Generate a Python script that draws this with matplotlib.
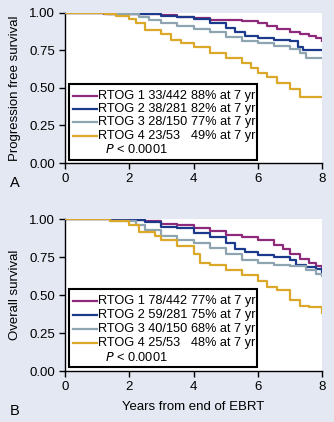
import matplotlib
matplotlib.use("Agg")
import matplotlib.pyplot as plt
from matplotlib.patches import Rectangle

plt.rcParams['font.family'] = ['Liberation Sans', 'DejaVu Sans']

# Kaplan-Meier step curves (time in years, survival fraction)
groups = ["RTOG 1", "RTOG 2", "RTOG 3", "RTOG 4"]
colors = ["#8e2a7a", "#1c3a8c", "#8ea4b0", "#dba82a"]

pfs_events = ["33/442", "38/281", "28/150", "23/53"]
pfs_pct = ["88% at 7 yr", "82% at 7 yr", "77% at 7 yr", "49% at 7 yr"]
os_events = ["78/442", "59/281", "40/150", "25/53"]
os_pct = ["77% at 7 yr", "75% at 7 yr", "68% at 7 yr", "48% at 7 yr"]

pfs_t = [
    [0, 1.2, 2.0, 3.0, 3.5, 4.0, 4.5, 5.0, 5.5, 6.0, 6.3, 6.6, 7.0, 7.3, 7.6, 7.8, 8.0],
    [0, 1.3, 2.2, 3.0, 3.5, 4.0, 4.5, 5.0, 5.3, 5.6, 6.0, 6.5, 7.0, 7.25, 7.4, 8.0],
    [0, 1.4, 2.3, 2.6, 3.0, 3.5, 4.0, 4.5, 5.0, 5.5, 6.0, 6.5, 7.0, 7.3, 7.5, 8.0],
    [0, 1.25, 1.6, 2.0, 2.2, 2.5, 3.0, 3.3, 3.6, 4.0, 4.5, 5.0, 5.5, 5.8, 6.0, 6.3, 6.6, 7.0, 7.3, 8.0],
]
pfs_s = [
    [1.0, 0.995, 0.99, 0.985, 0.975, 0.965, 0.955, 0.95, 0.945, 0.935, 0.915, 0.89, 0.87, 0.86, 0.845, 0.83, 0.81],
    [1.0, 0.995, 0.99, 0.98, 0.97, 0.96, 0.93, 0.9, 0.87, 0.845, 0.83, 0.82, 0.81, 0.77, 0.75, 0.75],
    [1.0, 0.99, 0.97, 0.95, 0.93, 0.91, 0.89, 0.87, 0.84, 0.81, 0.80, 0.78, 0.76, 0.73, 0.70, 0.70],
    [1.0, 0.99, 0.98, 0.96, 0.93, 0.885, 0.86, 0.82, 0.80, 0.775, 0.73, 0.70, 0.665, 0.63, 0.60, 0.57, 0.53, 0.49, 0.44, 0.44],
]

os_t = [
    [0, 1.5, 2.5, 3.0, 3.5, 4.0, 4.5, 5.0, 5.5, 6.0, 6.5, 6.8, 7.0, 7.3, 7.6, 7.8, 8.0],
    [0, 1.5, 2.5, 3.0, 3.5, 4.0, 4.5, 5.0, 5.3, 5.6, 6.0, 6.5, 7.0, 7.2, 7.5, 7.8, 8.0],
    [0, 1.4, 2.2, 2.5, 3.0, 3.5, 4.0, 4.5, 5.0, 5.5, 6.0, 6.5, 7.0, 7.5, 7.8, 8.0],
    [0, 1.4, 2.0, 2.3, 2.8, 3.0, 3.5, 4.0, 4.2, 4.5, 5.0, 5.5, 6.0, 6.3, 6.6, 7.0, 7.3, 7.6, 8.0],
]
os_s = [
    [1.0, 0.995, 0.985, 0.97, 0.96, 0.94, 0.92, 0.895, 0.88, 0.86, 0.83, 0.80, 0.77, 0.74, 0.71, 0.69, 0.665],
    [1.0, 0.995, 0.98, 0.95, 0.94, 0.905, 0.88, 0.84, 0.80, 0.78, 0.76, 0.75, 0.73, 0.70, 0.685, 0.67, 0.65],
    [1.0, 0.99, 0.96, 0.93, 0.885, 0.86, 0.84, 0.81, 0.77, 0.73, 0.71, 0.70, 0.69, 0.665, 0.64, 0.625],
    [1.0, 0.99, 0.96, 0.915, 0.885, 0.86, 0.82, 0.77, 0.71, 0.70, 0.665, 0.63, 0.59, 0.55, 0.53, 0.47, 0.43, 0.42, 0.38],
]

bg = "#e4e8f3"
fs = 9
fig = plt.figure(figsize=(3.34, 4.22), dpi=100, facecolor=bg)
W, H = 334, 422
ax1 = fig.add_axes([65 / W, 1 - 163 / H, 257 / W, 150 / H])
ax2 = fig.add_axes([65 / W, 1 - 371 / H, 257 / W, 152 / H])


def panel(ax, times, surv, events, pct, ylabel, rows, box):
    ax.set_facecolor("white")
    for t, s, c in zip(times, surv, colors):
        ax.plot(t, s, drawstyle="steps-post", color=c, lw=1.6, zorder=3)
    ax.set_xlim(0, 8)
    ax.set_ylim(0, 1)
    ax.set_xticks([0, 2, 4, 6, 8])
    ax.set_yticks([0, 0.25, 0.5, 0.75, 1.0])
    ax.set_yticklabels(["0.00", "0.25", "0.50", "0.75", "1.00"])
    for side in ["top", "right"]:
        ax.spines[side].set_visible(False)
    for side in ["left", "bottom"]:
        ax.spines[side].set_linewidth(1.0)
    ax.tick_params(labelsize=fs + 0.5, length=4, width=1, pad=3)
    ax.set_ylabel(ylabel, fontsize=fs + 0.5, labelpad=6)

    # boxed key with group counts and 7-year estimates
    x0, y0, x1, y1 = box
    ax.add_patch(Rectangle((x0, y0), x1 - x0, y1 - y0, transform=ax.transAxes,
                           facecolor="white", edgecolor="black", lw=1.5, zorder=4))
    for g, ev, p, c, y in zip(groups, events, pct, colors, rows):
        ax.plot([0.031, 0.125], [y, y], transform=ax.transAxes, color=c, lw=1.6, zorder=5)
        ax.text(0.128, y, f"{g} {ev}", transform=ax.transAxes, fontsize=fs + 0.2,
                va="center", ha="left", zorder=5)
        ax.text(0.49, y, p, transform=ax.transAxes, fontsize=fs + 0.2,
                va="center", ha="left", zorder=5)
    ax.text(0.156, rows[-1] - (rows[0] - rows[1]), r"$\it{P}$ < 0.0001", transform=ax.transAxes,
            fontsize=fs + 0.2, va="center", ha="left", zorder=5)


panel(ax1, pfs_t, pfs_s, pfs_events, pfs_pct, "Progression free survival",
      [0.449, 0.36, 0.271, 0.18], (0.016, 0.02, 0.747, 0.527))
panel(ax2, os_t, os_s, os_events, os_pct, "Overall survival",
      [0.4625, 0.368, 0.278, 0.186], (0.016, 0.028, 0.747, 0.5375))
ax2.set_xlabel("Years from end of EBRT", fontsize=fs + 0.5, labelpad=6)

fig.text(10 / W, 1 - 183 / H, "A", fontsize=10.5, va="center", ha="left")
fig.text(10 / W, 1 - 411 / H, "B", fontsize=10.5, va="center", ha="left")

fig.savefig("out.png", dpi=100, facecolor=bg)
